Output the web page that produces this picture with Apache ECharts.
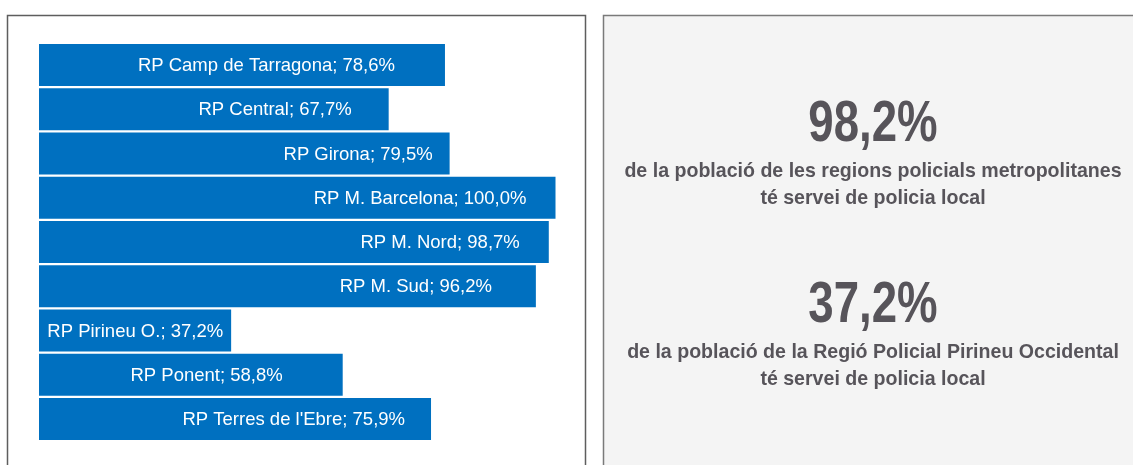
<!DOCTYPE html>
<html>
<head>
<meta charset="utf-8">
<script src="https://cdn.jsdelivr.net/npm/echarts@6/dist/echarts.min.js"></script>
<style>
html,body{margin:0;padding:0;background:#fff;}
#chart{width:1133px;height:465px;}
</style>
</head>
<body>
<div id="chart"></div>
<script>
// ---- data ----
const categories = ['RP Camp de Tarragona','RP Central','RP Girona','RP M. Barcelona','RP M. Nord','RP M. Sud','RP Pirineu O.','RP Ponent',"RP Terres de l'Ebre"];
const values = [78.6, 67.7, 79.5, 100.0, 98.7, 96.2, 37.2, 58.8, 75.9];
const highlightValues = ['98,2%', '37,2%'];
const highlightLines = [
  ['de la població de les regions policials metropolitanes', 'té servei de policia local'],
  ['de la població de la Regió Policial Pirineu Occidental', 'té servei de policia local']
];

// ---- styling ----
const labelInset = [50, 37, 17, 29, 29, 44, 8, 60, 26];
const textColor = '#57545a';
const sansFont = "'Liberation Sans', Arial, sans-serif";
const cx = 873;
const blockY = [125, 306];

function fmt(v){ return v.toFixed(1).replace('.', ',') + '%'; }

const graphics = [
  {type:'rect', z:0, shape:{x:7.5, y:15.5, width:578, height:470}, style:{fill:'#ffffff', stroke:'#5e5e5e', lineWidth:1.5}},
  {type:'rect', z:0, shape:{x:603.5, y:15.5, width:600, height:470}, style:{fill:'#f4f4f4', stroke:'#7a7a7a', lineWidth:1.5}}
];
highlightValues.forEach((hv, b) => {
  graphics.push({type:'text', z:1, x:cx, y:blockY[b], scaleX:0.8, style:{text:hv, fill:textColor, font:"bold 57px " + sansFont, textAlign:'center', textVerticalAlign:'middle'}});
  highlightLines[b].forEach((ln, j) => {
    graphics.push({type:'text', z:1, x:cx, y:blockY[b] + 46 + j*27, scaleX:0.955, style:{text:ln, fill:textColor, font:"bold 20.5px " + sansFont, textAlign:'center', textVerticalAlign:'middle'}});
  });
});

const chart = echarts.init(document.getElementById('chart'), null, {renderer:'canvas'});
chart.setOption({
  animation:false,
  backgroundColor:'#ffffff',
  grid:{left:39, width:516.5, top:43, height:398, containLabel:false},
  xAxis:{type:'value', min:0, max:100, show:false},
  yAxis:{type:'category', data:categories, inverse:true, show:false},
  graphic:{elements:graphics},
  series:[{
    type:'bar',
    barWidth:42,
    itemStyle:{color:'#0070c0'},
    label:{
      show:true,
      position:'insideRight',
      color:'#ffffff',
      fontFamily:sansFont,
      fontSize:18.5,
      offset:[0, 1],
      formatter: p => p.name + '; ' + fmt(p.value)
    },
    data: values.map((v, i) => ({value:v, label:{distance:labelInset[i]}}))
  }]
});
</script>
</body>
</html>
